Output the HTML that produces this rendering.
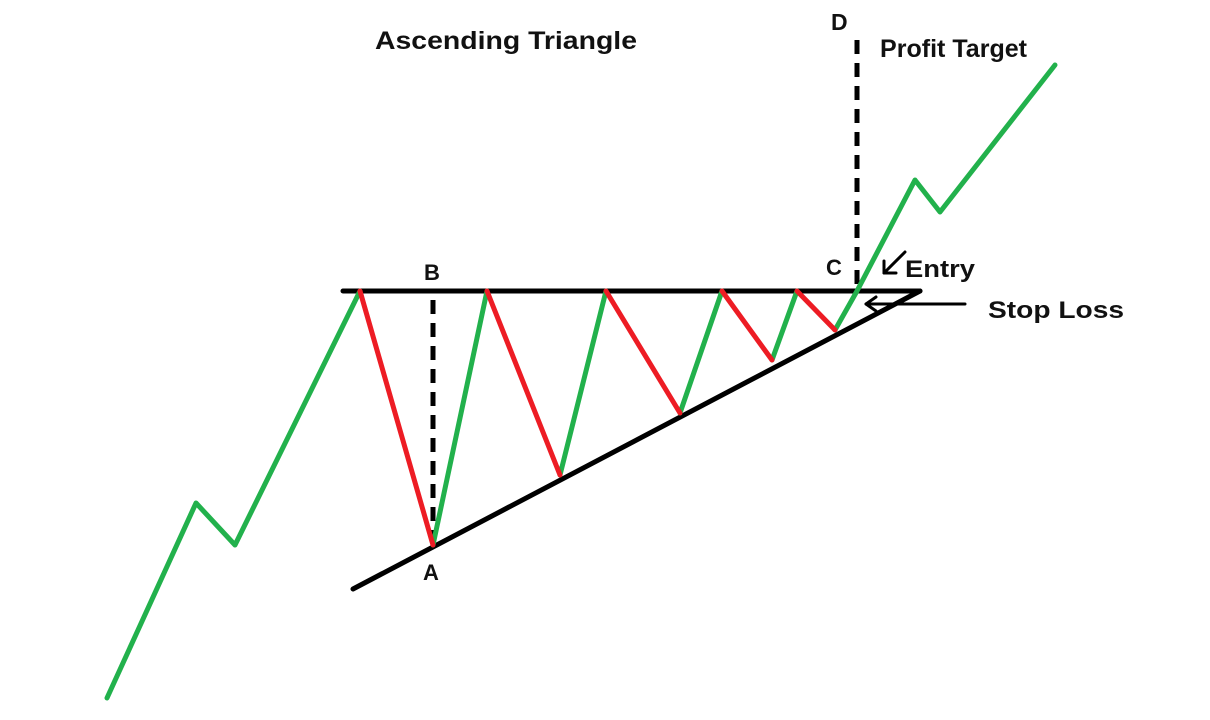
<!DOCTYPE html>
<html><head><meta charset="utf-8"><style>
html,body{margin:0;padding:0;background:#fff;}
svg{display:block;}
text{font-family:"Liberation Sans",sans-serif;font-weight:bold;fill:#111;}
</style></head><body>
<svg width="1210" height="720" viewBox="0 0 1210 720" xmlns="http://www.w3.org/2000/svg">
<g stroke-width="5" fill="none" stroke-linecap="round" stroke-linejoin="round">
<line x1="343" y1="291" x2="920" y2="291" stroke="#000"/>
<line x1="353" y1="589" x2="920" y2="291" stroke="#000"/>
<line x1="433" y1="300" x2="433" y2="545" stroke="#000" stroke-dasharray="14,9" stroke-linecap="butt"/>
<line x1="857" y1="40" x2="857" y2="291" stroke="#000" stroke-dasharray="14,9" stroke-linecap="butt"/>
<polyline points="107,698 196,503 235,545 360,291" stroke="#22b14c"/>
<line x1="433" y1="545" x2="487" y2="291" stroke="#22b14c"/>
<line x1="560" y1="475" x2="606" y2="291" stroke="#22b14c"/>
<line x1="680" y1="413" x2="722" y2="291" stroke="#22b14c"/>
<line x1="772" y1="360" x2="797" y2="291" stroke="#22b14c"/>
<polyline points="835,330 857,291 915,180 940,212 1055,65" stroke="#22b14c"/>
<line x1="360" y1="291" x2="433" y2="545" stroke="#ed1c24"/>
<line x1="487" y1="291" x2="560" y2="475" stroke="#ed1c24"/>
<line x1="606" y1="291" x2="680" y2="413" stroke="#ed1c24"/>
<line x1="722" y1="291" x2="772" y2="360" stroke="#ed1c24"/>
<line x1="797" y1="291" x2="835" y2="330" stroke="#ed1c24"/>
<line x1="866" y1="304" x2="965" y2="304" stroke="#000" stroke-width="3"/>
<polyline points="876,297 866,304 876,311" stroke="#000" stroke-width="3"/>
<line x1="905" y1="252" x2="884" y2="273" stroke="#000" stroke-width="3"/>
<polyline points="884,261 884,273 896,273" stroke="#000" stroke-width="3"/>
</g>
<text x="375" y="49" font-size="25" textLength="262" lengthAdjust="spacingAndGlyphs">Ascending Triangle</text>
<text x="831" y="30" font-size="23">D</text>
<text x="880" y="57" font-size="25" textLength="147" lengthAdjust="spacingAndGlyphs">Profit Target</text>
<text x="424" y="280" font-size="22">B</text>
<text x="826" y="275" font-size="22">C</text>
<text x="905" y="277" font-size="24" textLength="70" lengthAdjust="spacingAndGlyphs">Entry</text>
<text x="988" y="318" font-size="24" textLength="136" lengthAdjust="spacingAndGlyphs">Stop Loss</text>
<text x="423" y="580" font-size="22">A</text>
</svg>
</body></html>
